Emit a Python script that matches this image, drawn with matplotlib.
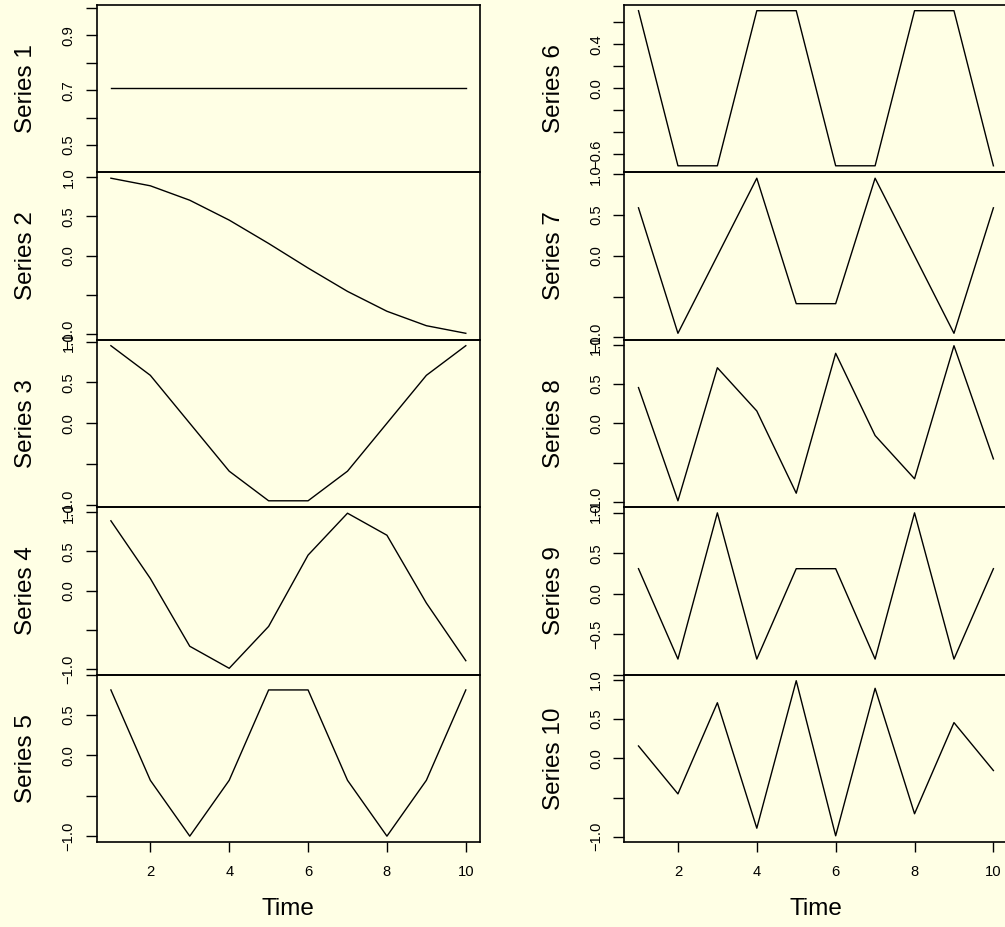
import matplotlib
matplotlib.use("Agg")
import matplotlib.pyplot as plt

plt.rcParams['font.family'] = ['Liberation Sans', 'DejaVu Sans']

time = [1, 2, 3, 4, 5, 6, 7, 8, 9, 10]
names = ["Series 1", "Series 2", "Series 3", "Series 4", "Series 5",
         "Series 6", "Series 7", "Series 8", "Series 9", "Series 10"]

s1 = [0.7071, 0.7071, 0.7071, 0.7071, 0.7071, 0.7071, 0.7071, 0.7071, 0.7071, 0.7071]
s2 = [0.9877, 0.8910, 0.7071, 0.4540, 0.1564, -0.1564, -0.4540, -0.7071, -0.8910, -0.9877]
s3 = [0.9511, 0.5878, 0.0, -0.5878, -0.9511, -0.9511, -0.5878, 0.0, 0.5878, 0.9511]
s4 = [0.8910, 0.1564, -0.7071, -0.9877, -0.4540, 0.4540, 0.9877, 0.7071, -0.1564, -0.8910]
s5 = [0.8090, -0.3090, -1.0, -0.3090, 0.8090, 0.8090, -0.3090, -1.0, -0.3090, 0.8090]
s6 = [0.7071, -0.7071, -0.7071, 0.7071, 0.7071, -0.7071, -0.7071, 0.7071, 0.7071, -0.7071]
s7 = [0.5878, -0.9511, 0.0, 0.9511, -0.5878, -0.5878, 0.9511, 0.0, -0.9511, 0.5878]
s8 = [0.4540, -0.9877, 0.7071, 0.1564, -0.8910, 0.8910, -0.1564, -0.7071, 0.9877, -0.4540]
s9 = [0.3090, -0.8090, 1.0, -0.8090, 0.3090, 0.3090, -0.8090, 1.0, -0.8090, 0.3090]
s10 = [0.1564, -0.4540, 0.7071, -0.8910, 0.9877, -0.9877, 0.8910, -0.7071, 0.4540, -0.1564]
series = [s1, s2, s3, s4, s5, s6, s7, s8, s9, s10]

std_ticks = [-1.0, -0.5, 0.0, 0.5, 1.0]
yticks = [
    [0.5, 0.6, 0.7, 0.8, 0.9, 1.0],
    std_ticks, std_ticks, std_ticks, std_ticks,
    [-0.6, -0.4, -0.2, 0.0, 0.2, 0.4, 0.6],
    std_ticks, std_ticks, std_ticks, std_ticks,
]
std_lab = ["1.0", "0.5", "0.0", "\u22121.0"]
ylabeled = [
    ["0.5", "0.7", "0.9"],
    std_lab, std_lab, std_lab,
    ["0.5", "0.0", "\u22121.0"],
    ["0.4", "0.0", "\u22120.6"],
    std_lab, std_lab,
    ["1.0", "0.5", "0.0", "\u22120.5"],
    std_lab,
]
xticks = [2, 4, 6, 8, 10]
xlabel = "Time"

BG = "#FFFFE5"
W, H = 1005, 927
fig = plt.figure(figsize=(W / 100, H / 100), dpi=100, facecolor=BG)

left_x = [96.7, 624.3]
ax_w = 383.3
top_px = 4.5
ph = 167.5

def fmt(v):
    s = "%.1f" % abs(v)
    return ("\u2212" + s) if v < 0 else s

for i in range(10):
    col = i // 5
    row = i % 5
    x0 = left_x[col] / W
    y0 = 1 - (top_px + (row + 1) * ph) / H
    ax = fig.add_axes([x0, y0, ax_w / W, ph / H])
    ax.set_facecolor(BG)
    ax.patch.set_alpha(0)
    vals = series[i]
    ax.plot(time, vals, color="black", lw=1.0)
    lo, hi = min(vals), max(vals)
    if hi == lo:
        lo, hi = lo - 0.4 * abs(lo), hi + 0.4 * abs(hi)
    r = hi - lo
    ax.set_ylim(lo - 0.04 * r, hi + 0.04 * r)
    tr = max(time) - min(time)
    ax.set_xlim(min(time) - 0.04 * tr, max(time) + 0.04 * tr)
    tk = yticks[i]
    ax.set_yticks(tk)
    labs = [fmt(v) if fmt(v) in ylabeled[i] else "" for v in tk]
    ax.set_yticklabels(labs, rotation=90, va="center")
    ax.tick_params(axis="y", direction="out", length=7.6, width=1.0,
                   labelsize=10.6, pad=7.5, colors="black")
    for sp in ax.spines.values():
        sp.set_linewidth(1.2)
        sp.set_color("black")
    if row == 4:
        ax.set_xticks(xticks)
        ax.set_xticklabels([str(t) for t in xticks])
        ax.tick_params(axis="x", direction="out", length=7.0, width=1.0,
                       labelsize=10.6, pad=9.5, colors="black")
        fig.text((left_x[col] + ax_w / 2) / W, 1 - 909 / H, xlabel,
                 ha="center", va="center", fontsize=17.5)
    else:
        ax.set_xticks([])
    label_x = [26, 554][col]
    fig.text(label_x / W, 1 - (top_px + (row + 0.5) * ph) / H, names[i],
             rotation=90, ha="center", va="center", fontsize=17.5)

fig.savefig("out.png", dpi=100, facecolor=BG)
